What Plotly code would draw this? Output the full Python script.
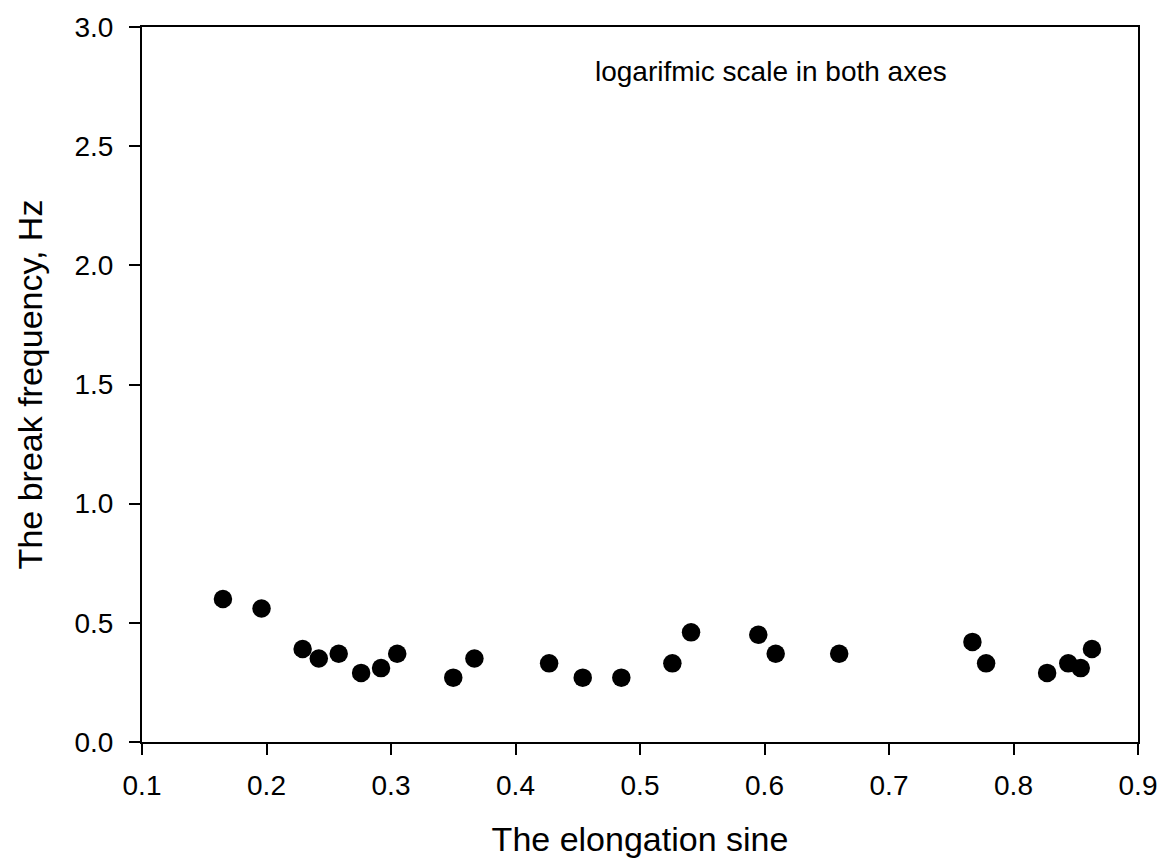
import plotly.graph_objects as go

elongation_sine = [0.165, 0.196, 0.229, 0.242, 0.258, 0.276, 0.292, 0.305, 0.350, 0.367,
                   0.427, 0.454, 0.485, 0.526, 0.541, 0.595, 0.609, 0.660,
                   0.767, 0.778, 0.827, 0.844, 0.854, 0.863]
break_frequency = [0.60, 0.56, 0.39, 0.35, 0.37, 0.29, 0.31, 0.37, 0.27, 0.35,
                   0.33, 0.27, 0.27, 0.33, 0.46, 0.45, 0.37, 0.37,
                   0.42, 0.33, 0.29, 0.33, 0.31, 0.39]

x_ticks = [0.1, 0.2, 0.3, 0.4, 0.5, 0.6, 0.7, 0.8, 0.9]
y_ticks = [0.0, 0.5, 1.0, 1.5, 2.0, 2.5, 3.0]

fig = go.Figure()
fig.add_trace(go.Scatter(
    x=elongation_sine, y=break_frequency, mode="markers",
    marker=dict(color="black", size=18.5, line=dict(width=0)),
    showlegend=False, cliponaxis=False,
))

font_family = "Liberation Sans, Arial, sans-serif"
axis_common = dict(
    showline=True, linecolor="black", linewidth=2, mirror=True,
    ticks="outside", ticklen=11, tickwidth=2, tickcolor="black",
    showgrid=False, zeroline=False,
    tickfont=dict(family=font_family, size=28, color="black"),
)

fig.update_layout(
    width=1169, height=864,
    margin=dict(l=142, r=26, t=22, b=121),
    plot_bgcolor="white", paper_bgcolor="white",
    xaxis=dict(range=[0.1, 0.9], tickvals=x_ticks,
               ticktext=[f"{v:.1f}" for v in x_ticks],
               ticklabelstandoff=6,
               title=dict(text="The elongation sine", standoff=28,
                          font=dict(family=font_family, size=34, color="black")),
               **axis_common),
    yaxis=dict(range=[0.0, 3.0], tickvals=y_ticks,
               ticktext=[f"{v:.1f}" for v in y_ticks],
               ticklabelstandoff=10,
               title=dict(text="The break frequency, Hz", standoff=22,
                          font=dict(family=font_family, size=34, color="black")),
               **axis_common),
    annotations=[dict(x=0.6054, y=2.815, xref="x", yref="y",
                      text="logarifmic scale in both axes", showarrow=False,
                      font=dict(family=font_family, size=28, color="black"))],
)

fig.write_html("out.html", config={"displayModeBar": False},
               post_script="document.body.style.margin='0';document.body.style.overflow='hidden';")
